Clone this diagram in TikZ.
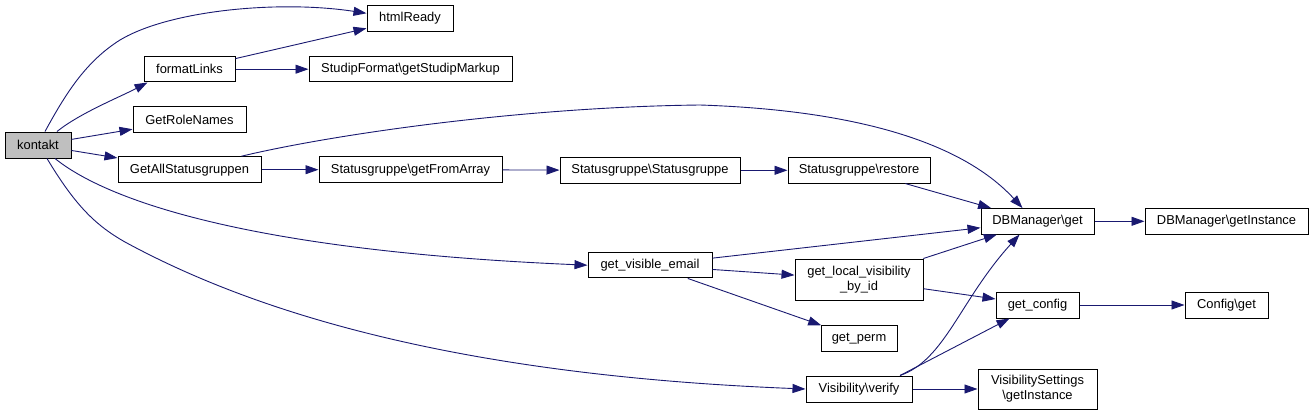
\documentclass[tikz,border=0pt]{standalone}
\usepackage{fontspec}
\setmainfont{Liberation Sans}
\usetikzlibrary{arrows.meta}
\definecolor{edgeblue}{HTML}{191970}
\definecolor{rootgray}{HTML}{BFBFBF}
\begin{document}
\begin{tikzpicture}[x=1pt,y=-1pt,
  box/.style={draw=black,line width=1pt,inner sep=0pt,minimum height=25.5pt,font=\fontsize{12.9}{15}\selectfont,align=center,text=black},
  edge/.style={draw=edgeblue,line width=0.9pt,-{Triangle[length=13pt,width=9pt]}}
]
\useasboundingbox (0,0) rectangle (1313,415);
\node[box,minimum width=66pt,minimum height=26pt,fill=rootgray] (kontakt) at (38,145) {kontakt};
\node[box,minimum width=86pt,minimum height=26pt] (html) at (410,18.3) {htmlReady};
\node[box,minimum width=91pt] (fmt) at (189.5,69.2) {formatLinks};
\node[box,minimum width=203pt] (studip) at (410.5,69.2) {StudipFormat\textbackslash getStudipMarkup};
\node[box,minimum width=113pt,minimum height=26pt] (roles) at (189.5,119.7) {GetRoleNames};
\node[box,minimum width=143pt,minimum height=26pt] (gas) at (189.5,169.7) {GetAllStatusgruppen};
\node[box,minimum width=183pt,minimum height=26pt] (gfa) at (410.5,169.7) {Statusgruppe\textbackslash getFromArray};
\node[box,minimum width=180pt] (sgsg) at (650,170.3) {Statusgruppe\textbackslash Statusgruppe};
\node[box,minimum width=142pt] (restore) at (859,170.3) {Statusgruppe\textbackslash restore};
\node[box,minimum width=113pt] (dbget) at (1037.5,221.3) {DBManager\textbackslash get};
\node[box,minimum width=163pt] (dbinst) at (1226.5,221.3) {DBManager\textbackslash getInstance};
\node[box,minimum width=124pt] (gve) at (650,265.2) {get\_visible\_email};
\node[box,minimum width=128pt,minimum height=41pt] (glv) at (859,279.5) {get\_local\_visibility\\\_by\_id};
\node[box,minimum width=76pt] (perm) at (859,338.5) {get\_perm};
\node[box,minimum width=106pt,minimum height=26pt] (verify) at (859,389) {Visibility\textbackslash verify};
\node[box,minimum width=83pt,minimum height=26pt] (gcfg) at (1037.5,305) {get\_config};
\node[box,minimum width=83pt,minimum height=26pt] (cfgget) at (1226.5,305) {Config\textbackslash get};
\node[box,minimum width=119pt,minimum height=40pt] (vsinst) at (1037.5,389) {VisibilitySettings\\\textbackslash getInstance};

\draw[edge] ([xshift=7pt]kontakt.north) .. controls (65,95) and (85,62) .. (120,40) .. controls (170,10) and (280,0) .. ([yshift=5pt]html.west);
\draw[edge] ([xshift=19pt]kontakt.north) .. controls (80,113) and (120,97) .. ([xshift=4pt]fmt.south west);
\draw[edge] (kontakt) -- (roles);
\draw[edge] (kontakt) -- (gas);
\draw[edge] ([xshift=17pt]kontakt.south) .. controls (100,195) and (230,250) .. (gve.west);
\draw[edge] ([xshift=9pt]kontakt.south) .. controls (75,205) and (95,225) .. (125,242) .. controls (250,310) and (450,375) .. (verify.west);
\draw[edge] (fmt) -- (html);
\draw[edge] (fmt) -- (studip);
\draw[edge] (gas) -- (gfa);
\draw[edge] ([xshift=52pt]gas.north) .. controls (330,135) and (520,107) .. (700,105) .. controls (850,110) and (960,140) .. ([xshift=-15pt]dbget.north);
\draw[edge] (gfa) -- (sgsg);
\draw[edge] (sgsg) -- (restore);
\draw[edge] (restore) -- (dbget);
\draw[edge] (dbget) -- (dbinst);
\draw[edge] (gve) -- (dbget);
\draw[edge] (gve) -- (glv);
\draw[edge] (gve) -- (perm);
\draw[edge] (glv) -- (dbget);
\draw[edge] (glv) -- (gcfg);
\draw[edge] (gcfg) -- (cfgget);
\draw[edge] ([xshift=41pt]verify.north) .. controls (945,360) and (960,300) .. ([xshift=-18pt]dbget.south);
\draw[edge] ([xshift=41pt]verify.north) -- ([xshift=-28pt]gcfg.south);
\draw[edge] (verify) -- (vsinst);
\end{tikzpicture}
\end{document}
